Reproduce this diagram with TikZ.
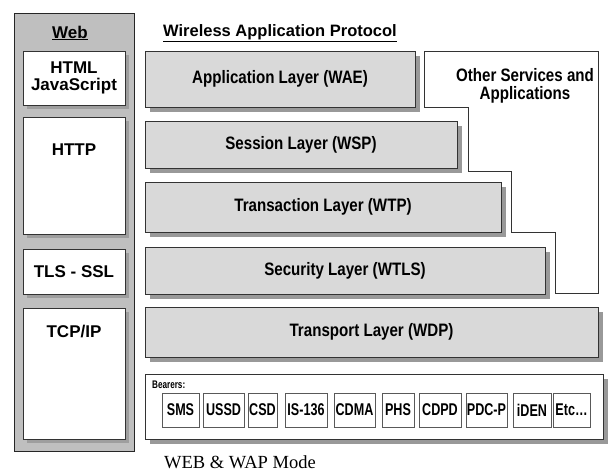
\documentclass[tikz,border=0pt]{standalone}
\usepackage{fontspec}
\setmainfont{Liberation Sans}
\newfontfamily\capfont{Liberation Serif}
\newfontfamily\condfont{Liberation Sans}[FakeStretch=0.84]
\newfontfamily\narrowfont{Liberation Sans}[FakeStretch=0.74]
\usetikzlibrary{shadows, positioning}

\newcommand\webtext{\fontsize{17}{19}\selectfont\bfseries}
\newcommand\lyrtext{\fontsize{18}{19}\selectfont\condfont\bfseries}
\newcommand\brtext{\fontsize{17}{18}\selectfont\narrowfont\bfseries}

\begin{document}
\begin{tikzpicture}[x=1pt, y=-1pt,
    layer/.style={draw=black!80, line width=1pt, fill=black!15,
        drop shadow={shadow xshift=5pt, shadow yshift=-5pt, fill=black!40, opacity=1},
        font=\lyrtext, inner sep=0pt},
    webbox/.style={draw=black!80, line width=1pt, fill=white,
        drop shadow={shadow xshift=4pt, shadow yshift=-4pt, fill=black!38, opacity=1},
        minimum width=102pt, font=\webtext, inner sep=0pt, align=center},
    bearer/.style={draw=black!65, line width=0.8pt, fill=white,
        minimum height=34pt, inner sep=0pt, font=\brtext},
    ]
\useasboundingbox (0,0) rectangle (608,475);

% web side
\node[draw=black!85, line width=1pt, fill=black!25, minimum width=120pt,
    minimum height=438pt] (web) at (74,232) {};
\node[font=\webtext] (webtitle) at (70,33) {\underline{Web}};
\node[webbox, minimum height=54pt] (html) at (74,78) {HTML\\[-2pt]JavaScript};
\node[webbox, minimum height=117pt] (http) at (74,175.5) {};
\node[below=27pt of http.north, inner sep=0pt, font=\webtext] (httptext) {HTTP};
\node[webbox, minimum height=45pt] (tls) at (74,271.5) {TLS - SSL};
\node[webbox, minimum height=131pt] (tcp) at (74,373.5) {};
\node[below=17pt of tcp.north, inner sep=0pt, font=\webtext] (tcptext) {TCP/IP};

% WAP stack
\node[font=\fontsize{16.5}{19}\selectfont\bfseries] (waptitle) at (280,33)
    {\underline{Wireless Application Protocol}};
\node[layer, minimum width=270pt, minimum height=56pt] (wae) at (280,79) {Application Layer (WAE)};
\node[layer, minimum width=312pt, minimum height=47pt] (wsp) at (301,144.5) {Session Layer (WSP)};
\node[layer, minimum width=356pt, minimum height=50pt] (wtp) at (323,207) {Transaction Layer (WTP)};
\node[layer, minimum width=400pt, minimum height=47pt] (wtls) at (345,270.5) {Security Layer (WTLS)};
\node[layer, minimum width=453pt, minimum height=50pt] (wdp) at (371.5,332) {Transport Layer (WDP)};

\draw[draw=black!80, line width=1pt, fill=white]
    (424,51) -- (598,51) -- (598,293) -- (555,293) -- (555,232) -- (511,232)
    -- (511,171) -- (468,171) -- (468,107) -- (424,107) -- cycle;
\node[font=\lyrtext, align=center] (other) at (525,86) {Other Services and\\[-1pt]Applications};

% bearers
\node[layer, fill=white, minimum width=458pt, minimum height=65pt] (bearers) at (374,406.5) {};
\node[anchor=west, inner sep=0pt, font=\fontsize{11}{12}\selectfont\narrowfont\bfseries]
    (brlabel) at (152,385) {Bearers:};
\foreach \name/\cx/\w/\txt in {sms/180.5/37/SMS, ussd/223.5/41/USSD, csd/262.5/29/CSD,
    is/306/42/IS-136, cdma/354.5/41/CDMA, phs/398/32/PHS, cdpd/440/42/CDPD,
    pdc/486.5/41/PDC-P, iden/532/38/iDEN}
  \node[bearer, minimum width=\w pt] (\name) at (\cx,410) {\txt};
\node[bearer, minimum width=37pt] (etc) at (571.5,410) {Etc\ldots};

\node[font=\fontsize{18.5}{20}\selectfont\capfont] (caption) at (240,462) {WEB \& WAP Mode};
\end{tikzpicture}
\end{document}
